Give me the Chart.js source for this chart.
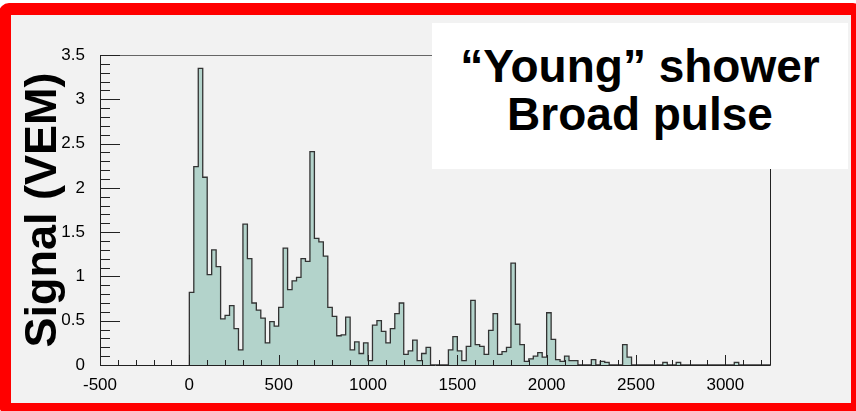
<!DOCTYPE html>
<html>
<head>
<meta charset="utf-8">
<script src="https://cdn.jsdelivr.net/npm/chart.js@4.4.1/dist/chart.umd.min.js"></script>
<style>
  body { margin: 0; background: #fff; width: 856px; height: 411px; overflow: hidden; }
  #frame { position: absolute; left: -1px; top: 3px; width: 864px; height: 412px; box-sizing: border-box;
           border: 12px solid #ff0000; border-radius: 10px; background: #f2f2f2; }
  #signal { position: absolute; left: 0; top: 0; }
  #note { position: absolute; left: 432px; top: 23px; width: 416px; height: 146px; box-sizing: border-box;
          padding-top: 19px; background: #fff; text-align: center; color: #000;
          font-family: "Liberation Sans", Arial, sans-serif; font-weight: bold; font-size: 46px; line-height: 48px; }
</style>
</head>
<body>
<div id="frame"></div>
<canvas id="signal" width="856" height="411"></canvas>
<div id="note">“Young” shower<br>Broad pulse</div>
<script>
// histogram: 25 ns bins starting at t = 0
var BIN_START = 0;
var BIN_WIDTH = 25;
var signal = [
  0.82, 2.24, 3.35, 2.12, 1.02, 1.30, 1.11, 0.52, 0.56, 0.67,
  0.41, 0.17, 1.59, 1.20, 0.70, 0.62, 0.53, 0.25, 0.49, 0.44,
  0.65, 1.32, 0.85, 0.95, 0.99, 1.20, 1.17, 2.41, 1.43, 1.39,
  1.23, 0.65, 0.55, 0.33, 0.34, 0.54, 0.17, 0.26, 0.13, 0.25,
  0.05, 0.45, 0.50, 0.38, 0.25, 0.41, 0.58, 0.70, 0.12, 0.16,
  0.28, 0.05, 0.13, 0.20, 0, 0, 0, 0, 0.17, 0.32,
  0.16, 0.05, 0.21, 0.73, 0.23, 0.21, 0.12, 0.39, 0.58, 0.12,
  0.15, 0.20, 1.15, 0.46, 0.23, 0.04, 0.07, 0.10, 0.14, 0.09,
  0.59, 0.29, 0.06, 0.04, 0.10, 0.05, 0.05, 0, 0, 0,
  0.06, 0, 0.04, 0.03, 0, 0, 0, 0.23, 0.09, 0,
  0, 0, 0, 0, 0, 0, 0.03, 0, 0, 0.03,
  0, 0, 0, 0, 0, 0, 0, 0, 0, 0,
  0, 0, 0.03, 0, 0, 0, 0, 0, 0, 0
];
var xTicks = [-500, 0, 500, 1000, 1500, 2000, 2500, 3000];
var yTicks = [0, 0.5, 1, 1.5, 2, 2.5, 3, 3.5];

var points = [{x: BIN_START, y: 0}];
for (var i = 0; i < signal.length; i++) {
  points.push({x: BIN_START + i * BIN_WIDTH, y: signal[i]});
}
points.push({x: BIN_START + signal.length * BIN_WIDTH, y: 0});

// ROOT style frame with ticks pointing into the plot
var rootFrame = {
  id: 'rootFrame',
  afterDatasetsDraw: function(chart) {
    var ctx = chart.ctx, a = chart.chartArea, sx = chart.scales.x, sy = chart.scales.y;
    ctx.save();
    ctx.lineWidth = 1;
    ctx.strokeStyle = '#666';
    ctx.beginPath();
    ctx.moveTo(a.left, a.top + 0.5); ctx.lineTo(a.right + 0.5, a.top + 0.5);
    ctx.stroke();
    ctx.strokeStyle = '#222';
    ctx.beginPath();
    ctx.moveTo(a.right + 0.5, a.top); ctx.lineTo(a.right + 0.5, a.bottom + 0.5);
    ctx.moveTo(a.left + 0.5, a.top); ctx.lineTo(a.left + 0.5, a.bottom + 0.5);
    ctx.lineTo(a.right + 0.5, a.bottom + 0.5);
    for (var v = -500; v <= 3200; v += 100) {
      var px = Math.round(sx.getPixelForValue(v)) + 0.5;
      var len = v % 500 === 0 ? 10 : 5;
      ctx.moveTo(px, a.bottom); ctx.lineTo(px, a.bottom - len);
    }
    for (var k = 0; k <= 35; k++) {
      var py = Math.round(sy.getPixelForValue(k / 10)) + 0.5;
      var l = k % 5 === 0 ? 20 : 10;
      ctx.moveTo(a.left, py); ctx.lineTo(a.left + l, py);
    }
    ctx.stroke();
    ctx.restore();
  }
};

var plain = function(value) { return String(value); };

var options = {
  responsive: false,
  animation: false,
  devicePixelRatio: 1,
  layout: { padding: { top: 55, right: 86, left: 0, bottom: 0 } },
  plugins: { legend: { display: false }, tooltip: { enabled: false } },
  scales: {
    x: {
      type: 'linear', min: -500, max: 3250,
      grid: { display: false }, border: { display: false },
      afterFit: function(s) { s.height = 46; },
      afterBuildTicks: function(s) { s.ticks = xTicks.map(function(v) { return {value: v}; }); },
      ticks: { autoSkip: false, maxRotation: 0, padding: 2, color: '#000', callback: plain,
               font: { family: 'Liberation Sans', size: 17 } }
    },
    y: {
      min: 0, max: 3.5,
      grid: { display: false }, border: { display: false },
      afterFit: function(s) { s.width = 100; },
      afterBuildTicks: function(s) { s.ticks = yTicks.map(function(v) { return {value: v}; }); },
      ticks: { padding: 7, color: '#000', callback: plain,
               font: { family: 'Liberation Sans', size: 17 } },
      title: { display: true, text: 'Signal (VEM)', color: '#000',
               padding: { top: 17, bottom: 0 },
               font: { family: 'Liberation Sans', size: 45, weight: 'bold', lineHeight: 1.2 } }
    }
  }
};

var ctx = document.getElementById('signal').getContext('2d');
var myChart = new Chart(ctx, {
  type: 'line',
  data: {
    datasets: [{
      data: points,
      stepped: 'before',
      fill: 'origin',
      backgroundColor: 'rgb(179,211,203)',
      borderColor: '#333',
      borderWidth: 1.3,
      pointRadius: 0
    }]
  },
  options: options,
  plugins: [rootFrame]
});
</script>
</body>
</html>
